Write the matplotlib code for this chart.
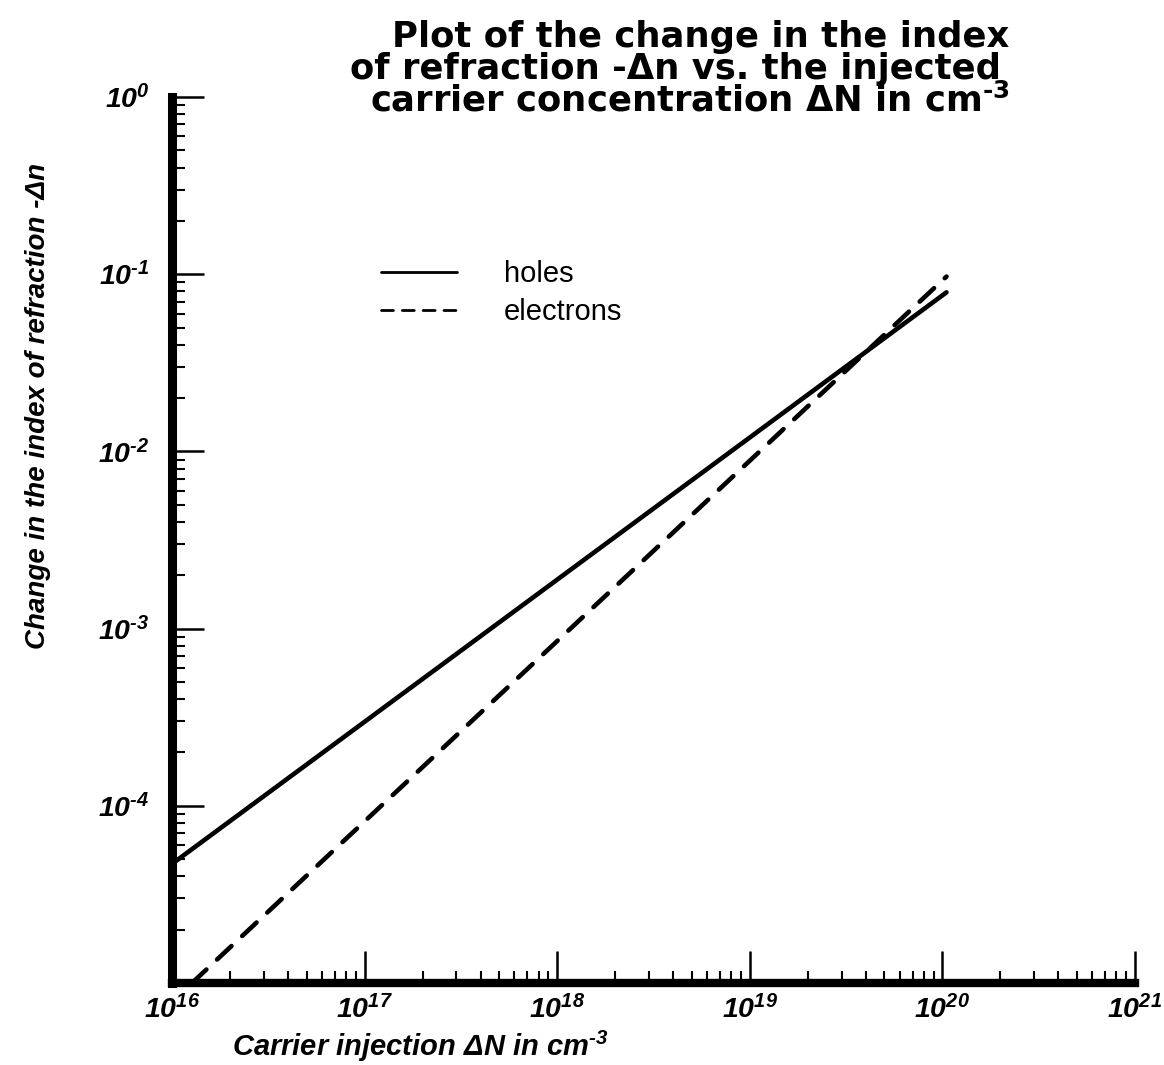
import matplotlib
matplotlib.use("Agg")
import matplotlib.pyplot as plt
from matplotlib.ticker import LogLocator, FuncFormatter, NullFormatter
import numpy as np

# ---- data ----
holes_N = [1.0e16, 1.05e20]
holes_dn = [4.7e-5, 7.9e-2]
electrons_N = [1.27e16, 1.05e20]
electrons_dn = [1.0e-5, 9.7e-2]
series_labels = ["holes", "electrons"]
x_limits = [1e16, 1e21]
y_limits = [1e-5, 1e0]
HYPHEN = '\u2010'
title_lines = ["Plot of the change in the index",
               "of refraction -\u0394n vs. the injected",
               "carrier concentration \u0394N in cm$^{\\mathbf{" + HYPHEN + "3}}$"]
xlabel = "Carrier injection \u0394N in cm$^{" + HYPHEN + "3}$"
ylabel = "Change in the index of refraction -\u0394n"

plt.rcParams['font.family'] = ['Liberation Sans', 'DejaVu Sans']
plt.rcParams['mathtext.fontset'] = 'custom'
plt.rcParams['mathtext.rm'] = 'Liberation Sans:italic:bold'
plt.rcParams['mathtext.it'] = 'Liberation Sans:italic:bold'
plt.rcParams['mathtext.bf'] = 'DejaVu Sans:bold'

W, H = 1164, 1065
fig = plt.figure(figsize=(W / 100, H / 100), dpi=100)
ax = fig.add_axes([172 / W, 1 - 983 / H, (1135 - 172) / W, (983 - 97) / H])

ax.set_xscale('log')
ax.set_yscale('log')
ax.set_xlim(*x_limits)
ax.set_ylim(*y_limits)

ax.plot(holes_N, holes_dn, color='black', lw=3.3, solid_capstyle='round',
        label=series_labels[0], clip_on=False)
ax.plot(electrons_N, electrons_dn, color='black', lw=3.3, dashes=(4.3, 3.2),
        dash_capstyle='round', label=series_labels[1], clip_on=False)

for s in ['top', 'right']:
    ax.spines[s].set_visible(False)
ax.spines['left'].set_linewidth(6.5)
ax.spines['bottom'].set_linewidth(6)

ax.xaxis.set_major_locator(LogLocator(base=10, numticks=20))
ax.yaxis.set_major_locator(LogLocator(base=10, numticks=20))
ax.xaxis.set_minor_locator(LogLocator(base=10, subs=np.arange(2, 10), numticks=50))
ax.yaxis.set_minor_locator(LogLocator(base=10, subs=np.arange(2, 10), numticks=50))
ax.xaxis.set_minor_formatter(NullFormatter())
ax.yaxis.set_minor_formatter(NullFormatter())


def fmt_x(v, pos):
    e = int(round(np.log10(v)))
    return '$\\mathrm{10^{%d}}$' % e


def fmt_y(v, pos):
    e = int(round(np.log10(v)))
    if e <= -5:
        return ''
    if e < 0:
        return '$\\mathrm{10^{' + HYPHEN + str(-e) + '}}$'
    return '$\\mathrm{10^{%d}}$' % e


ax.xaxis.set_major_formatter(FuncFormatter(fmt_x))
ax.yaxis.set_major_formatter(FuncFormatter(fmt_y))

ax.tick_params(which='major', direction='in', length=23, width=1.8,
               labelsize=20.5)
ax.tick_params(which='minor', direction='in', length=9, width=1.5)
ax.tick_params(axis='x', which='major', pad=9)
ax.tick_params(axis='y', which='major', pad=16)

ax.set_xlabel(xlabel, fontsize=21, fontweight='bold', fontstyle='italic')
ax.xaxis.label.set_ha('left')
ax.xaxis.label.set_va('baseline')
ax.xaxis.set_label_coords((232 - 172) / (1135 - 172), (983 - 1056) / (983 - 97))

ax.set_ylabel(ylabel, fontsize=20, fontweight='bold', fontstyle='italic')
ax.yaxis.label.set_va('center')
ax.yaxis.set_label_coords((38 - 172) / (1135 - 172), (983 - 406) / (983 - 97))

leg = ax.legend(loc='upper left', bbox_to_anchor=(381 / W, 1 - 260 / H),
                bbox_transform=fig.transFigure, frameon=False, fontsize=21,
                handlelength=2.6, handletextpad=1.6, labelspacing=0.35,
                borderpad=0, borderaxespad=0)
for ln in leg.get_lines():
    ln.set_linewidth(2.0)

# title lines
xs = [392, 350, 370]
ys = [47, 79, 112]
for t, x, y in zip(title_lines, xs, ys):
    fig.text(x / W, 1 - y / H, t, fontsize=25.5, fontweight='bold',
             family=['DejaVu Sans'], ha='left', va='baseline')

fig.savefig('out.png', dpi=100)
